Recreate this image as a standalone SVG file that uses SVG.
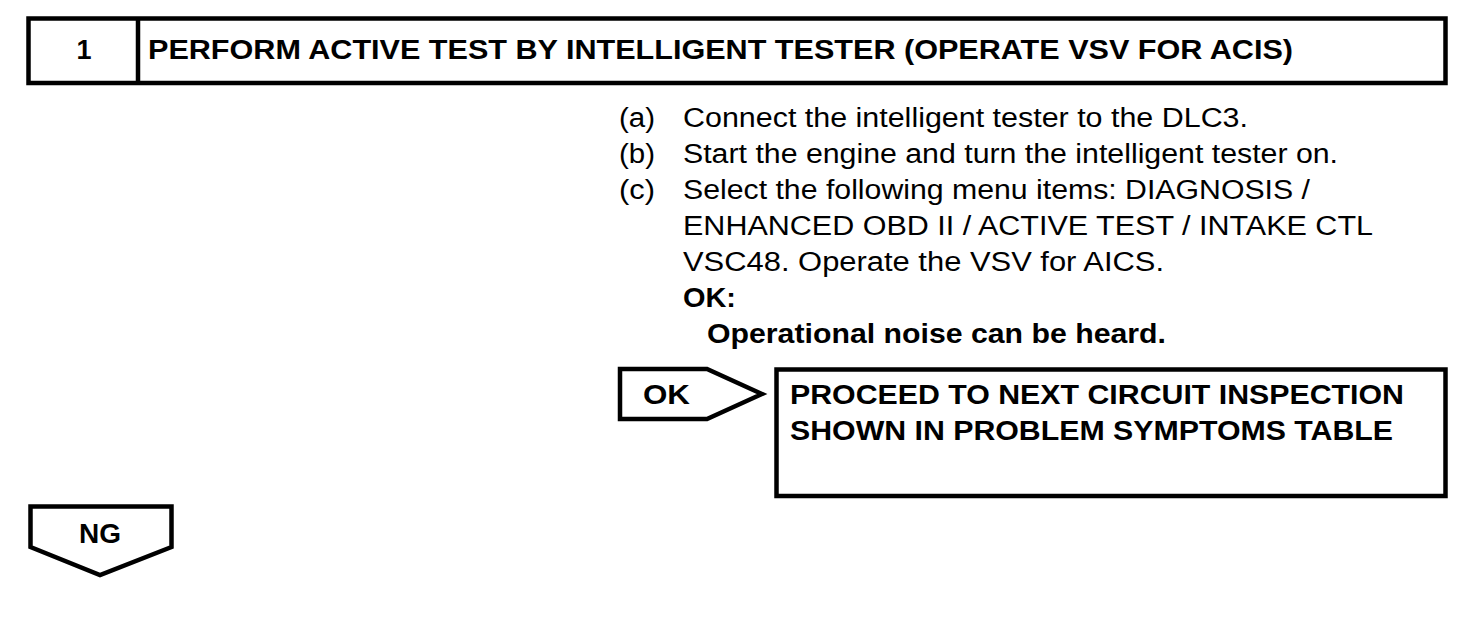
<svg xmlns="http://www.w3.org/2000/svg" width="1472" height="642" viewBox="0 0 1472 642">
<style>
.box{fill:#fff;stroke:#000;stroke-width:4.5}
.t{font-family:"Liberation Sans",Arial,sans-serif;font-size:27px;fill:#000}
.b{font-weight:bold}
</style>
<rect width="1472" height="642" fill="#fff"/>
<g id="header">
<rect class="box" x="28.5" y="18.5" width="1417" height="64.5"/>
<line x1="138" y1="18.5" x2="138" y2="83" stroke="#000" stroke-width="4.5"/>
<text class="t b" x="84" y="59" text-anchor="middle" font-size="31">1</text>
<text class="t b" x="148" y="59" font-size="29" textLength="1145" lengthAdjust="spacingAndGlyphs">PERFORM ACTIVE TEST BY INTELLIGENT TESTER (OPERATE VSV FOR ACIS)</text>
</g>
<g id="steps">
<text class="t" x="619" y="127" textLength="36" lengthAdjust="spacingAndGlyphs">(a)</text>
<text class="t" x="683" y="127" textLength="565" lengthAdjust="spacingAndGlyphs">Connect the intelligent tester to the DLC3.</text>
<text class="t" x="619" y="163" textLength="36" lengthAdjust="spacingAndGlyphs">(b)</text>
<text class="t" x="683" y="163" textLength="655" lengthAdjust="spacingAndGlyphs">Start the engine and turn the intelligent tester on.</text>
<text class="t" x="619" y="199" textLength="36" lengthAdjust="spacingAndGlyphs">(c)</text>
<text class="t" x="683" y="199" textLength="627" lengthAdjust="spacingAndGlyphs">Select the following menu items: DIAGNOSIS /</text>
<text class="t" x="683" y="235" textLength="690" lengthAdjust="spacingAndGlyphs">ENHANCED OBD II / ACTIVE TEST / INTAKE CTL</text>
<text class="t" x="683" y="271" textLength="481" lengthAdjust="spacingAndGlyphs">VSC48. Operate the VSV for AICS.</text>
<text class="t b" x="683" y="307" textLength="53" lengthAdjust="spacingAndGlyphs">OK:</text>
<text class="t b" x="707" y="343" textLength="459" lengthAdjust="spacingAndGlyphs">Operational noise can be heard.</text>
</g>
<g id="ok">
<polygon class="box" points="620,369 707,369 762,394 707,419 620,419"/>
<text class="t b" x="643" y="404" textLength="47" lengthAdjust="spacingAndGlyphs">OK</text>
</g>
<g id="proceed">
<rect class="box" x="776.5" y="369.5" width="669" height="126.5"/>
<text class="t b" x="790" y="404" textLength="614" lengthAdjust="spacingAndGlyphs">PROCEED TO NEXT CIRCUIT INSPECTION</text>
<text class="t b" x="790" y="440" textLength="603" lengthAdjust="spacingAndGlyphs">SHOWN IN PROBLEM SYMPTOMS TABLE</text>
</g>
<g id="ng">
<polygon class="box" points="30.5,506.5 171.5,506.5 171.5,547 100,575 30.5,547"/>
<text class="t b" x="79" y="543" textLength="42" lengthAdjust="spacingAndGlyphs">NG</text>
</g>
<g id="connectors"/>
</svg>
